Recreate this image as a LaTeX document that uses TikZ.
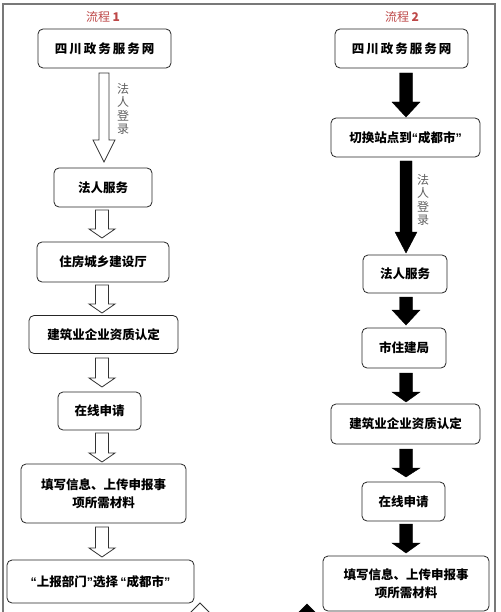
\documentclass[tikz,border=0pt]{standalone}
\usepackage{fontspec}
\newfontfamily\cjk{Noto Sans CJK SC}
\newfontfamily\lat{Liberation Sans}
\newcommand{\myLq}{{\lat “}}
\newcommand{\myRq}{{\lat ”}}
\definecolor{titlered}{RGB}{190,72,72}
\definecolor{framegray}{RGB}{120,120,120}
\definecolor{labelgray}{RGB}{95,95,95}
\newcommand{\barrow}[7]{%
\draw[#1] ({#2-#6},#3) -- ({#2+#6},#3) -- ({#2+#6},#4) -- ({#2+#7},#4) -- (#2,#5) -- ({#2-#7},#4) -- ({#2-#6},#4) -- cycle;}
\begin{document}
\begin{tikzpicture}[x=1pt,y=-1pt,
  box/.style={draw=black!85, line width=0.8pt, rounded corners=5pt, inner sep=0pt,
    font=\cjk\bfseries\fontsize{12.5}{18}\selectfont, align=center},
  hollow/.style={draw=black!80, fill=white, line width=0.8pt, line join=miter},
  solid/.style={draw=black, fill=black, line width=0.4pt},
  title/.style={text=titlered, font=\cjk\fontsize{12}{14}\selectfont},
  vlabel/.style={text=labelgray, font=\cjk\fontsize{12}{13.2}\selectfont, align=center}]
\useasboundingbox (0,0) rectangle (500,612);
\clip (0,0) rectangle (500,612);
\fill[white] (0,0) rectangle (500,612);
\draw[framegray, line width=1.2pt] (3,4) rectangle (495,640);
% titles
\node[title] (t1) at (103,17) {流程 \textbf{1}};
\node[title] (t2) at (402,17) {流程 \textbf{2}};
% left column
\node[box, minimum width=133pt, minimum height=39pt] (L1) at (104.5,48.5) {四\hspace{2pt}川\hspace{2pt}政\hspace{2pt}务\hspace{2pt}服\hspace{2pt}务\hspace{2pt}网};
\node[box, minimum width=98pt, minimum height=39pt] (L2) at (103,187.5) {法人服务};
\node[box, minimum width=132pt, minimum height=40pt] (L3) at (103,262) {住房城乡建设厅};
\node[box, minimum width=149pt, minimum height=38pt] (L4) at (103.5,334.5) {建筑业企业资质认定};
\node[box, minimum width=83pt, minimum height=38pt] (L5) at (99.5,411) {在线申请};
\node[box, minimum width=165pt, minimum height=59pt] (L6) at (103.5,493.5) {填写信息、上传申报事\\项所需材料};
\node[box, minimum width=187pt, minimum height=43pt] (L7) at (100.5,581.5) {\myLq 上报部门\myRq 选择\,\myLq 成都市\myRq};
% right column
\node[box, minimum width=133pt, minimum height=39pt] (R1) at (401.5,48.5) {四\hspace{2pt}川\hspace{2pt}政\hspace{2pt}务\hspace{2pt}服\hspace{2pt}务\hspace{2pt}网};
\node[box, minimum width=149pt, minimum height=39pt] (R2) at (405.5,137.5) {切换站点到\myLq 成都市\myRq};
\node[box, minimum width=84pt, minimum height=38pt] (R3) at (405,274) {法人服务};
\node[box, minimum width=84pt, minimum height=40pt] (R4) at (404,348) {市住建局};
\node[box, minimum width=149pt, minimum height=40pt] (R5) at (405.5,424) {建筑业企业资质认定};
\node[box, minimum width=83pt, minimum height=39pt] (R6) at (403.5,501.5) {在线申请};
\node[box, minimum width=166pt, minimum height=55pt] (R7) at (406,583.5) {填写信息、上传申报事\\项所需材料};
% left hollow arrows
\barrow{hollow}{104}{73}{140}{162}{5}{11}
\barrow{hollow}{102}{210}{229}{238}{6.5}{13}
\barrow{hollow}{102}{285}{304}{313}{6.5}{13}
\barrow{hollow}{102}{358}{378}{387}{6.5}{13}
\barrow{hollow}{102}{433}{453}{462}{6.5}{13}
\barrow{hollow}{102}{527}{548}{557}{6.5}{13}
\node[vlabel] (la1) at (123,109) {法\\人\\登\\录};
% right solid arrows
\barrow{solid}{406}{73}{102}{117}{6.5}{14}
\barrow{solid}{406}{161}{232}{253}{6}{11}
\barrow{solid}{406}{297}{310}{325}{6.5}{14}
\barrow{solid}{406}{373}{392}{402}{6.5}{14}
\barrow{solid}{406}{449}{468}{477}{6.5}{14}
\barrow{solid}{406}{524}{543}{553}{6.5}{14}
\node[vlabel] (la2) at (423,200) {法\\人\\登\\录};
% partial upward arrows at the bottom edge
\draw[hollow] (200,603) -- (214,617) -- (186,617) -- cycle;
\draw[solid] (307,604) -- (321,618) -- (293,618) -- cycle;
\end{tikzpicture}
\end{document}
